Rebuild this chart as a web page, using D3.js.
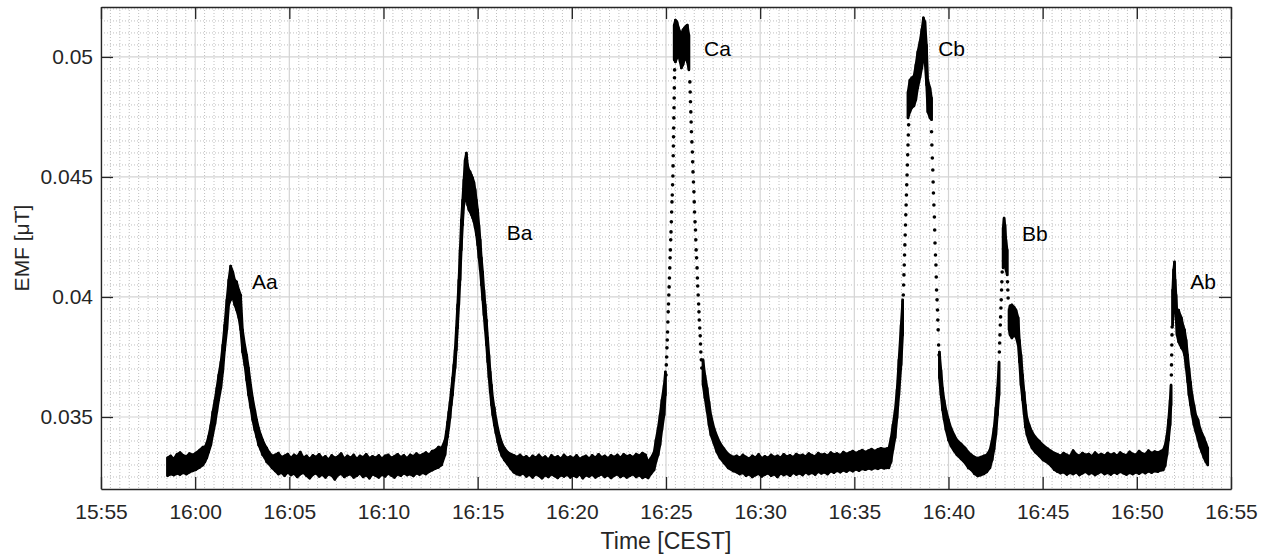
<!DOCTYPE html>
<html>
<head>
<meta charset="utf-8">
<script src="https://cdn.jsdelivr.net/npm/d3@7"></script>
<style>
  body { margin: 0; background: #fff; }
  svg { display: block; font-family: "Liberation Sans", Arial, Helvetica, sans-serif; }
</style>
</head>
<body>
<svg id="chart" width="1270" height="556"></svg>
<script>
// time in seconds after 15:55:00, EMF in uT
// band rows: [t, low, high] (spread of the noisy samples), dot rows: [t, value]
const baseStart = [
  [212,0.03255,0.03330],[222,0.03262,0.03338],[232,0.03258,0.03325],[242,0.03265,0.03345],
  [252,0.03260,0.03352],[262,0.03268,0.03340],[272,0.03262,0.03335],[282,0.03270,0.03348],
  [292,0.03275,0.03342],[302,0.03280,0.03350],[314,0.03290,0.03362],[325,0.03300,0.03375]
];
const bandAa = [
  [331,0.03313,0.03375],[337,0.03329,0.03392],[343,0.03354,0.03421],[350,0.03383,0.03467],
  [356,0.03425,0.03521],[363,0.03471,0.03571],[369,0.03521,0.03621],[375,0.03571,0.03675],
  [382,0.03621,0.03729],[388,0.03688,0.03800],[394,0.03779,0.03883],[401,0.03863,0.03988],
  [407,0.03967,0.04071],[413,0.03988,0.04129],[420,0.03996,0.04104],[426,0.03967,0.04071],
  [432,0.03946,0.04063],[439,0.03913,0.04029],[445,0.03863,0.04008],[451,0.03771,0.03863],
  [458,0.03717,0.03800],[464,0.03654,0.03758],[470,0.03592,0.03704],[477,0.03538,0.03633],
  [483,0.03488,0.03579],[490,0.03446,0.03529],[496,0.03417,0.03488],[502,0.03383,0.03454],
  [509,0.03363,0.03425],[515,0.03342,0.03404],[522,0.03329,0.03383],[528,0.03313,0.03371],
  [535,0.03304,0.03354],[545,0.03288,0.03338]
];
const baseAaBa = [
  [555,0.03275,0.03342],[565,0.03262,0.03350],[575,0.03268,0.03333],[585,0.03255,0.03338],
  [595,0.03270,0.03346],[605,0.03258,0.03329],[615,0.03265,0.03342],[625,0.03250,0.03335],
  [635,0.03262,0.03354],[645,0.03268,0.03330],[655,0.03255,0.03338],[665,0.03245,0.03325],
  [675,0.03260,0.03340],[685,0.03266,0.03333],[695,0.03252,0.03345],[705,0.03260,0.03328],
  [715,0.03248,0.03336],[725,0.03262,0.03322],[735,0.03256,0.03340],[745,0.03240,0.03330],
  [755,0.03258,0.03335],[765,0.03264,0.03348],[775,0.03250,0.03326],[785,0.03258,0.03338],
  [795,0.03262,0.03330],[805,0.03248,0.03342],[815,0.03255,0.03325],[825,0.03266,0.03338],
  [835,0.03250,0.03332],[845,0.03258,0.03345],[855,0.03245,0.03328],[865,0.03262,0.03336],
  [875,0.03255,0.03330],[885,0.03248,0.03340],[895,0.03260,0.03326],[905,0.03252,0.03338],
  [915,0.03265,0.03342],[925,0.03256,0.03330],[935,0.03248,0.03336],[945,0.03262,0.03345],
  [955,0.03255,0.03332],[965,0.03266,0.03340],[975,0.03258,0.03328],[985,0.03262,0.03342],
  [995,0.03254,0.03336],[1005,0.03266,0.03348],[1015,0.03260,0.03338],[1025,0.03268,0.03345],
  [1035,0.03262,0.03352],[1045,0.03272,0.03342],[1055,0.03278,0.03358],[1065,0.03285,0.03362],
  [1075,0.03290,0.03375],[1085,0.03300,0.03370]
];
const bandBa = [
  [1096,0.03342,0.03404],[1100,0.03383,0.03438],[1104,0.03417,0.03479],[1108,0.03454,0.03521],
  [1112,0.03496,0.03563],[1116,0.03550,0.03613],[1120,0.03592,0.03663],[1124,0.03654,0.03717],
  [1128,0.03704,0.03779],[1132,0.03779,0.03871],[1136,0.03871,0.03967],[1140,0.03967,0.04071],
  [1144,0.04071,0.04196],[1148,0.04196,0.04321],[1152,0.04300,0.04404],[1156,0.04383,0.04488],
  [1160,0.04404,0.04571],[1164,0.04425,0.04600],[1168,0.04383,0.04550],[1172,0.04363,0.04529],
  [1176,0.04354,0.04521],[1180,0.04342,0.04508],[1184,0.04329,0.04496],[1188,0.04313,0.04479],
  [1192,0.04288,0.04446],[1196,0.04258,0.04404],[1200,0.04217,0.04363],[1204,0.04163,0.04300],
  [1208,0.04113,0.04238],[1212,0.04050,0.04163],[1216,0.03988,0.04104],[1220,0.03925,0.04029],
  [1224,0.03863,0.03967],[1228,0.03800,0.03904],[1232,0.03729,0.03829],[1236,0.03663,0.03758],
  [1240,0.03604,0.03688],[1244,0.03550,0.03633],[1248,0.03508,0.03579],[1253,0.03467,0.03538],
  [1258,0.03433,0.03496],[1264,0.03396,0.03454],[1270,0.03363,0.03421],[1277,0.03338,0.03392],
  [1285,0.03321,0.03371],[1295,0.03304,0.03354]
];
const baseBaCa = [
  [1305,0.03285,0.03346],[1315,0.03270,0.03340],[1325,0.03262,0.03333],[1335,0.03258,0.03342],
  [1345,0.03266,0.03330],[1355,0.03252,0.03336],[1365,0.03260,0.03325],[1375,0.03248,0.03338],
  [1385,0.03262,0.03330],[1395,0.03255,0.03342],[1405,0.03245,0.03328],[1415,0.03258,0.03335],
  [1425,0.03250,0.03322],[1435,0.03262,0.03340],[1445,0.03254,0.03330],[1455,0.03246,0.03336],
  [1465,0.03258,0.03326],[1475,0.03252,0.03342],[1485,0.03260,0.03330],[1495,0.03248,0.03335],
  [1505,0.03256,0.03328],[1515,0.03250,0.03340],[1525,0.03262,0.03325],[1535,0.03245,0.03333],
  [1545,0.03258,0.03338],[1555,0.03252,0.03326],[1565,0.03260,0.03340],[1575,0.03248,0.03330],
  [1585,0.03255,0.03345],[1595,0.03262,0.03332],[1605,0.03250,0.03338],[1615,0.03258,0.03328],
  [1625,0.03246,0.03340],[1635,0.03256,0.03333],[1645,0.03262,0.03342],[1655,0.03250,0.03330],
  [1665,0.03258,0.03345],[1675,0.03248,0.03336],[1685,0.03255,0.03340],[1695,0.03262,0.03332],
  [1705,0.03250,0.03346],[1715,0.03258,0.03338],[1725,0.03246,0.03350],[1735,0.03252,0.03342]
];
const bandCa = [
  [1743,0.03246,0.03313],[1752,0.03263,0.03329],[1762,0.03279,0.03354],[1768,0.03313,0.03404],
  [1775,0.03342,0.03454],[1781,0.03383,0.03508],[1787,0.03446,0.03571],[1794,0.03508,0.03633],
  [1798,0.03592,0.03688],
  [1826,0.04988,0.05133],[1830,0.04979,0.05154],[1835,0.04996,0.05146],[1840,0.05008,0.05121],
  [1845,0.04979,0.05104],[1849,0.04954,0.05092],[1854,0.04967,0.05113],[1859,0.04988,0.05121],
  [1864,0.04996,0.05129],[1868,0.04979,0.05133],[1873,0.04946,0.05092],
  [1918,0.03633,0.03738],[1924,0.03579,0.03675],[1931,0.03521,0.03621],[1937,0.03467,0.03563],
  [1943,0.03425,0.03508],[1953,0.03388,0.03454],[1962,0.03354,0.03421],[1972,0.03329,0.03392],
  [1985,0.03308,0.03367],[1998,0.03288,0.03346],[2014,0.03275,0.03333]
];
const dotsCa = [
  [1800,0.03675],[1801,0.03717],[1802,0.03750],[1803,0.03788],[1804,0.03821],[1805,0.03854],
  [1806,0.03896],[1807,0.03938],[1808,0.03971],[1809,0.04008],[1810,0.04042],[1811,0.04079],
  [1812,0.04121],[1813,0.04163],[1814,0.04196],[1815,0.04238],[1816,0.04271],[1817,0.04313],
  [1818,0.04354],[1819,0.04396],[1820,0.04425],[1821,0.04467],[1822,0.04504],[1822.5,0.04546],
  [1823,0.04588],[1823.5,0.04629],[1824,0.04667],[1824.5,0.04704],[1825,0.04746],[1825.5,0.04788],
  [1826,0.04829],[1826.5,0.04871],[1827,0.04913],[1827.5,0.04946],
  [1876,0.04896],[1877,0.04854],[1878,0.04813],[1879,0.04771],[1880,0.04729],[1881,0.04688],
  [1882.5,0.04646],[1884,0.04604],[1885,0.04563],[1886,0.04521],[1887.5,0.04479],[1889,0.04438],
  [1890,0.04396],[1891,0.04354],[1892.5,0.04313],[1894,0.04279],[1895,0.04238],[1896,0.04196],
  [1897.5,0.04163],[1899,0.04121],[1900,0.04079],[1901,0.04046],[1902.5,0.04008],[1904,0.03971],
  [1905,0.03938],[1906,0.03904],[1907.5,0.03871],[1909,0.03838],[1910,0.03804],[1911,0.03771],
  [1912.5,0.03738],[1914,0.03704]
];
const baseCaCb = [
  [2025,0.03270,0.03338],[2035,0.03262,0.03330],[2045,0.03268,0.03342],[2055,0.03255,0.03333],
  [2065,0.03262,0.03326],[2075,0.03250,0.03338],[2085,0.03258,0.03330],[2095,0.03264,0.03345],
  [2105,0.03252,0.03328],[2115,0.03260,0.03336],[2125,0.03266,0.03330],[2135,0.03255,0.03342],
  [2145,0.03262,0.03333],[2155,0.03250,0.03338],[2165,0.03266,0.03330],[2175,0.03258,0.03345],
  [2185,0.03264,0.03335],[2195,0.03255,0.03340],[2205,0.03268,0.03332],[2215,0.03260,0.03346],
  [2225,0.03266,0.03338],[2235,0.03258,0.03342],[2245,0.03270,0.03335],[2255,0.03262,0.03348],
  [2265,0.03268,0.03340],[2275,0.03260,0.03336],[2285,0.03272,0.03350],[2295,0.03265,0.03342],
  [2305,0.03270,0.03346],[2315,0.03262,0.03338],[2325,0.03274,0.03352],[2335,0.03268,0.03344],
  [2345,0.03276,0.03348],[2355,0.03270,0.03340],[2365,0.03278,0.03354],[2375,0.03272,0.03346],
  [2385,0.03280,0.03352],[2395,0.03274,0.03358],[2405,0.03282,0.03350],[2415,0.03276,0.03356],
  [2425,0.03284,0.03362],[2435,0.03280,0.03354],[2445,0.03286,0.03360],[2455,0.03282,0.03366],
  [2465,0.03288,0.03358],[2475,0.03284,0.03365],[2485,0.03290,0.03370],[2495,0.03286,0.03366],
  [2503,0.03288,0.03368]
];
const bandCb = [
  [2510,0.03288,0.03371],[2517,0.03313,0.03413],[2523,0.03363,0.03467],[2530,0.03413,0.03529],
  [2536,0.03496,0.03613],[2542,0.03592,0.03738],[2549,0.03717,0.03883],[2554,0.03842,0.03988],
  [2571,0.04746,0.04854],[2577,0.04771,0.04904],[2583,0.04788,0.04913],[2590,0.04796,0.04921],
  [2596,0.04821,0.04967],[2602,0.04871,0.05021],[2609,0.04913,0.05063],[2615,0.04954,0.05113],
  [2620,0.04996,0.05163],[2625,0.04979,0.05146],[2630,0.04883,0.05050],[2634,0.04771,0.04904],
  [2641,0.04746,0.04871],[2646,0.04738,0.04829],
  [2671,0.03663,0.03771],[2676,0.03592,0.03696],[2681,0.03529,0.03621],[2686,0.03488,0.03571],
  [2692,0.03446,0.03529],[2700,0.03404,0.03488],[2708,0.03379,0.03454],[2718,0.03358,0.03425],
  [2727,0.03342,0.03404],[2740,0.03325,0.03388],[2753,0.03308,0.03371]
];
const dotsCb = [
  [2556,0.04008],[2557,0.04050],[2558,0.04092],[2559,0.04133],[2560,0.04175],[2561,0.04217],
  [2562,0.04258],[2563,0.04300],[2564,0.04342],[2565,0.04383],[2566,0.04425],[2567,0.04467],
  [2568,0.04508],[2569,0.04550],[2570,0.04592],[2571,0.04633],[2572,0.04675],[2573,0.04717],
  [2646,0.04688],[2647,0.04633],[2648.5,0.04579],[2650,0.04529],[2651,0.04479],[2652,0.04433],
  [2653.5,0.04383],[2655,0.04333],[2656,0.04279],[2657,0.04225],[2658.5,0.04175],[2660,0.04133],
  [2661,0.04083],[2662,0.04029],[2663.5,0.03988],[2665,0.03946],[2666,0.03904],[2667,0.03863],
  [2668.5,0.03800],[2670,0.03758]
];
const baseCbBb = [
  [2763,0.03288,0.03354],[2773,0.03279,0.03342],[2783,0.03263,0.03333],[2793,0.03254,0.03329],
  [2803,0.03258,0.03333],[2813,0.03263,0.03338]
];
const bandBb = [
  [2822,0.03271,0.03342],[2832,0.03288,0.03363],[2839,0.03321,0.03404],[2845,0.03363,0.03454],
  [2851,0.03425,0.03538],[2856,0.03508,0.03621],[2861,0.03592,0.03729],
  [2874,0.04121,0.04288],[2877,0.04146,0.04329],[2880,0.04133,0.04300],[2883,0.04113,0.04238],
  [2887,0.04092,0.04196],
  [2893,0.03863,0.03946],[2896,0.03842,0.03963],[2902,0.03829,0.03967],[2909,0.03842,0.03958],
  [2915,0.03833,0.03946],[2922,0.03800,0.03913],[2926,0.03729,0.03821],[2931,0.03633,0.03758],
  [2936,0.03571,0.03675],[2941,0.03508,0.03604],[2945,0.03458,0.03550],[2950,0.03425,0.03496],
  [2957,0.03396,0.03467],[2966,0.03371,0.03438],[2976,0.03354,0.03417],[2989,0.03338,0.03400],
  [3001,0.03321,0.03383],[3017,0.03308,0.03367]
];
const dotsBb = [
  [2862,0.03771],[2863,0.03808],[2864,0.03842],[2865,0.03883],[2866,0.03917],[2867,0.03954],
  [2868,0.03988],[2869,0.04029],[2870,0.04063],[2871,0.04104],
  [2888,0.04063],[2889,0.04029],[2890,0.03996]
];
const baseBbAb = [
  [3027,0.03296,0.03358],[3037,0.03280,0.03350],[3047,0.03272,0.03345],[3057,0.03266,0.03338],
  [3067,0.03270,0.03350],[3077,0.03260,0.03342],[3087,0.03268,0.03336],[3097,0.03262,0.03360],
  [3107,0.03270,0.03345],[3117,0.03258,0.03338],[3127,0.03266,0.03350],[3137,0.03272,0.03342],
  [3147,0.03262,0.03346],[3157,0.03268,0.03336],[3167,0.03258,0.03352],[3177,0.03266,0.03340],
  [3187,0.03272,0.03346],[3197,0.03262,0.03338],[3207,0.03268,0.03350],[3217,0.03260,0.03342],
  [3227,0.03270,0.03348],[3237,0.03264,0.03338],[3247,0.03272,0.03352],[3257,0.03266,0.03344],
  [3267,0.03260,0.03340],[3277,0.03268,0.03355],[3287,0.03262,0.03346],[3297,0.03270,0.03342],
  [3307,0.03264,0.03358],[3317,0.03272,0.03348],[3327,0.03266,0.03345],[3337,0.03274,0.03360],
  [3347,0.03268,0.03350],[3357,0.03275,0.03356],[3367,0.03272,0.03352],[3377,0.03278,0.03358]
];
const bandAb = [
  [3384,0.03279,0.03363],[3390,0.03296,0.03383],[3396,0.03342,0.03425],[3401,0.03404,0.03488],
  [3406,0.03467,0.03571],[3409,0.03550,0.03633],
  [3414,0.03883,0.04029],[3417,0.03988,0.04113],[3420,0.04008,0.04146],[3422,0.03946,0.04071],
  [3425,0.03904,0.04008],[3428,0.03842,0.03938],[3433,0.03813,0.03946],[3438,0.03800,0.03925],
  [3442,0.03788,0.03913],[3447,0.03779,0.03883],[3452,0.03758,0.03863],[3457,0.03704,0.03821],
  [3462,0.03646,0.03758],[3466,0.03592,0.03704],[3471,0.03550,0.03646],[3476,0.03508,0.03592],
  [3482,0.03467,0.03550],[3488,0.03438,0.03508],[3495,0.03404,0.03488],[3501,0.03375,0.03454],
  [3507,0.03354,0.03433],[3514,0.03329,0.03413],[3520,0.03313,0.03392],[3526,0.03300,0.03371]
];
const dotsAb = [
  [3410,0.03675],[3410.5,0.03717],[3411,0.03758],[3411.5,0.03800],[3412,0.03842],[3412.5,0.03875]
];

const yTicks = [0.035, 0.04, 0.045, 0.05];
const peakNames = ["Aa", "Ba", "Ca", "Cb", "Bb", "Ab"];
const peakLabelTimes = [481, 1293, 1921, 2667, 2934, 3470];
const peakLabelValues = [0.04033, 0.04238, 0.05004, 0.05004, 0.04233, 0.04033];

/////////////////////////////////////////////////////////////
const svg = d3.select("#chart");
const width = 1270, height = 556;
const margin = {top: 7, right: 39, bottom: 67, left: 101};
const axisColor = "#262626";
const tickFont = "21px";
const titleFont = "23px";

const t0 = new Date(2000, 0, 1, 15, 55, 0);
const toDate = s => new Date(t0.getTime() + s * 1000);

const x = d3.scaleTime()
    .domain([toDate(0), toDate(3600)])
    .range([margin.left, width - margin.right]);
const y = d3.scaleLinear()
    .domain([0.032, 0.05208])
    .range([height - margin.bottom, margin.top]);

svg.append("rect").attr("width", width).attr("height", height).attr("fill", "#fff");

// grid, minor first (dotted), then major
const grid = svg.append("g");
const minorX = d3.timeSecond.every(30).range(toDate(0), toDate(3601))
    .filter(d => ((d - t0) / 1000) % 300 !== 0);
const minorY = d3.range(65, 105).filter(k => k % 10 !== 0).map(k => k * 0.0005);
const majorX = d3.timeMinute.every(5).range(toDate(0), toDate(3601));

grid.selectAll(".mx").data(minorX).join("line")
    .attr("x1", d => x(d)).attr("x2", d => x(d))
    .attr("y1", margin.top).attr("y2", height - margin.bottom)
    .attr("stroke", "#b8b8b8").attr("stroke-width", 0.9).attr("stroke-dasharray", "1,2");
grid.selectAll(".my").data(minorY).join("line")
    .attr("x1", margin.left).attr("x2", width - margin.right)
    .attr("y1", d => y(d)).attr("y2", d => y(d))
    .attr("stroke", "#b8b8b8").attr("stroke-width", 0.9).attr("stroke-dasharray", "1,2");
grid.selectAll(".Mx").data(majorX).join("line")
    .attr("x1", d => x(d)).attr("x2", d => x(d))
    .attr("y1", margin.top).attr("y2", height - margin.bottom)
    .attr("stroke", "#d4d4d4").attr("stroke-width", 1.2);
grid.selectAll(".My").data(yTicks).join("line")
    .attr("x1", margin.left).attr("x2", width - margin.right)
    .attr("y1", d => y(d)).attr("y2", d => y(d))
    .attr("stroke", "#d4d4d4").attr("stroke-width", 1.2);

// data: noisy spread drawn as filled area (split where samples are sparse) plus dots
const bandRows = [].concat(baseStart, bandAa, baseAaBa, bandBa, baseBaCa, bandCa,
    baseCaCb, bandCb, baseCbBb, bandBb, baseBbAb, bandAb);
const dots = [].concat(dotsCa, dotsCb, dotsBb, dotsAb);

// new run when time gap is large or when consecutive spreads do not touch
function splitRuns(arr) {
  const runs = [];
  let cur = [];
  arr.forEach((d, i) => {
    const p = arr[i - 1];
    if (p && (d[0] - p[0] > 20 || d[1] > p[2] + 0.001 || d[2] < p[1] - 0.001)) {
      runs.push(cur); cur = [];
    }
    cur.push(d);
  });
  runs.push(cur);
  return runs;
}
const runs = splitRuns(bandRows);

const area = d3.area()
    .x(d => x(toDate(d[0])))
    .y0(d => y(d[1]))
    .y1(d => y(d[2]));

const plot = svg.append("g");
plot.selectAll("path").data(runs).join("path")
    .attr("d", area)
    .attr("fill", "#000").attr("stroke", "#000")
    .attr("stroke-width", 2.4).attr("stroke-linejoin", "round");
plot.selectAll("line").data(bandRows).join("line")
    .attr("x1", d => x(toDate(d[0]))).attr("x2", d => x(toDate(d[0])))
    .attr("y1", d => y(d[1])).attr("y2", d => y(d[2]))
    .attr("stroke", "#000").attr("stroke-width", 2.6).attr("stroke-linecap", "round");
plot.selectAll("circle").data(dots).join("circle")
    .attr("cx", d => x(toDate(d[0]))).attr("cy", d => y(d[1]))
    .attr("r", 1.8).attr("fill", "#000");

// axes (box with inward ticks on all sides)
const fmtY = d => String(+d.toFixed(3));
const xAxis = d3.axisBottom(x).tickValues(majorX).tickFormat(d3.timeFormat("%H:%M"))
    .tickSizeInner(-12).tickSizeOuter(0).tickPadding(15);
const xTop = d3.axisTop(x).tickValues(majorX).tickFormat("").tickSizeInner(-12).tickSizeOuter(0);
const yAxis = d3.axisLeft(y).tickValues(yTicks).tickFormat(fmtY)
    .tickSizeInner(-12).tickSizeOuter(0).tickPadding(8);
const yRight = d3.axisRight(y).tickValues(yTicks).tickFormat("").tickSizeInner(-12).tickSizeOuter(0);

const axes = [
  svg.append("g").attr("transform", `translate(0,${height - margin.bottom})`).call(xAxis),
  svg.append("g").attr("transform", `translate(0,${margin.top})`).call(xTop),
  svg.append("g").attr("transform", `translate(${margin.left},0)`).call(yAxis),
  svg.append("g").attr("transform", `translate(${width - margin.right},0)`).call(yRight)
];
axes.forEach(a => {
  a.attr("font-family", null).attr("font-size", tickFont);
  a.select(".domain").attr("stroke", axisColor).attr("stroke-width", 1.3);
  a.selectAll(".tick line").attr("stroke", axisColor).attr("stroke-width", 1.3);
  a.selectAll(".tick text").attr("fill", axisColor);
});

// axis titles
svg.append("text")
    .attr("x", (margin.left + width - margin.right) / 2).attr("y", 549)
    .attr("text-anchor", "middle").attr("font-size", titleFont).attr("fill", axisColor)
    .text("Time [CEST]");
svg.append("text")
    .attr("transform", "translate(29,248) rotate(-90)")
    .attr("text-anchor", "middle").attr("font-size", tickFont).attr("fill", axisColor)
    .text("EMF [\u03bcT]");

// peak labels
svg.append("g").selectAll("text").data(peakNames).join("text")
    .attr("x", (d, i) => x(toDate(peakLabelTimes[i])))
    .attr("y", (d, i) => y(peakLabelValues[i]))
    .attr("font-size", tickFont).attr("fill", "#000")
    .text(d => d);
</script>
</body>
</html>
